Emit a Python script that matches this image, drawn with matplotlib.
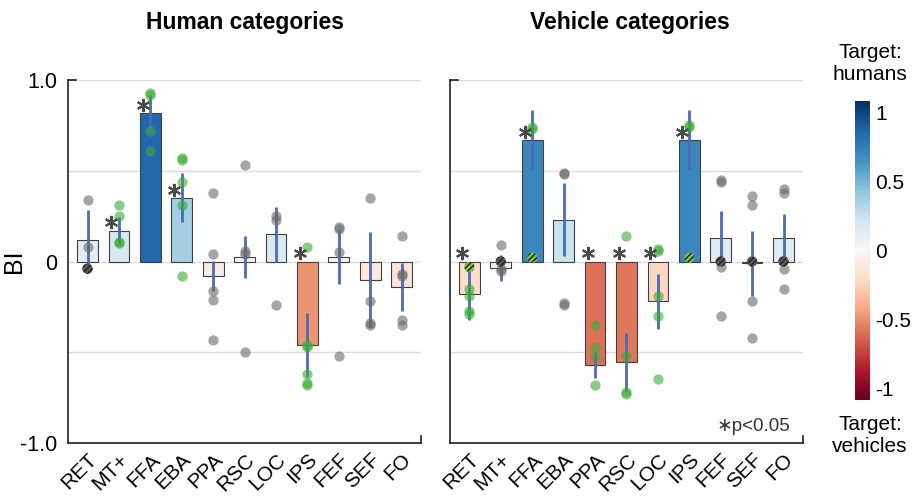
import numpy as np
import matplotlib.pyplot as plt
from matplotlib.colors import Normalize
from matplotlib.cm import ScalarMappable

plt.rcParams['font.family'] = ['Liberation Sans', 'DejaVu Sans']

rois = ['RET', 'MT+', 'FFA', 'EBA', 'PPA', 'RSC', 'LOC', 'IPS', 'FEF', 'SEF', 'FO']

# human categories panel
human_mean = [0.12, 0.17, 0.82, 0.35, -0.08, 0.025, 0.15, -0.46, 0.025, -0.10, -0.14]
human_err = [0.165, 0.075, 0.10, 0.135, 0.085, 0.115, 0.15, 0.175, 0.15, 0.265, 0.13]
human_sig = [0, 1, 1, 1, 0, 0, 0, 1, 0, 0, 0]
human_dots = [
    [0.34, 0.08],
    [0.31, 0.25, 0.10, 0.11],
    [0.93, 0.92, 0.72, 0.61],
    [0.57, 0.56, 0.44, 0.31, -0.08],
    [0.38, 0.04, -0.16, -0.21, -0.43],
    [0.53, 0.06, 0.04, -0.50],
    [0.25, 0.23, -0.24],
    [0.08, -0.46, -0.47, -0.62, -0.67, -0.68],
    [0.19, 0.18, 0.05, -0.52],
    [0.35, -0.22, -0.34, -0.35],
    [0.14, -0.07, -0.08, -0.32, -0.35],
]
human_hatch = [-0.04, None, None, None, None, None, None, None, None, None, None]

# vehicle categories panel
vehicle_mean = [-0.18, -0.035, 0.67, 0.23, -0.57, -0.555, -0.22, 0.67, 0.13, -0.01, 0.13]
vehicle_err = [0.14, 0.07, 0.165, 0.20, 0.07, 0.16, 0.15, 0.165, 0.15, 0.18, 0.13]
vehicle_sig = [1, 0, 1, 0, 1, 1, 1, 1, 0, 0, 0]
vehicle_dots = [
    [-0.15, -0.19, -0.27, -0.29],
    [0.09, -0.04, -0.05],
    [0.74, 0.73],
    [0.49, 0.48, -0.23, -0.24],
    [-0.35, -0.47, -0.52, -0.68],
    [0.14, -0.52, -0.72, -0.73],
    [0.06, 0.07, -0.19, -0.30, -0.65],
    [0.74, 0.75],
    [0.44, 0.45, -0.03, -0.30],
    [0.36, 0.31, -0.22, -0.42],
    [0.40, 0.38, -0.04, -0.15],
]
vehicle_hatch = [-0.03, 0.0, 0.02, None, None, None, None, 0.02, 0.0, 0.0, 0.0]

cmap = plt.get_cmap('RdBu')
bar_norm = Normalize(-1.03, 1.03)
err_color = '#4a6cb5'
gray = '#6a6a6a'
green = '#3aab36'

fig = plt.figure(figsize=(9.17, 5.0), dpi=100)
ax_h = fig.add_axes([0.0742, 0.114, 0.385, 0.726])
ax_v = fig.add_axes([0.4907, 0.114, 0.385, 0.726])


def draw_panel(ax, mean, err, sig, dots, hatch):
    x = np.arange(len(rois))
    for yv in [1.0, 0.5, 0.0, -0.5]:
        ax.axhline(yv, color='#dcdcdc', lw=1.0, zorder=0)
    ax.bar(x, mean, width=0.66, color=cmap(bar_norm(np.array(mean))),
           edgecolor='#404040', linewidth=0.8, zorder=2)
    ax.vlines(x, np.array(mean) - np.array(err), np.array(mean) + np.array(err),
              color=err_color, lw=2.0, zorder=3)
    for i in range(len(rois)):
        c = green if sig[i] else gray
        ax.scatter([x[i]] * len(dots[i]), dots[i], s=55, color=c, alpha=0.6,
                   linewidths=0, zorder=4)
        if hatch[i] is not None:
            fc = '#7fbf4a' if sig[i] else '#5a5a5a'
            ax.scatter([x[i]], [hatch[i]], s=55, facecolor=fc, edgecolor='#222222',
                       hatch='//////', linewidths=0.0, zorder=5)
        if sig[i]:
            ax.plot(x[i] - 0.24, max(mean[i], 0) + 0.045, marker=(6, 2, 0),
                    ms=9.5, mew=1.5, color='#4a4a4a', zorder=6, clip_on=False)
    ax.set_xlim(-0.62, 10.62)
    ax.set_ylim(-1.0, 1.0)
    ax.set_xticks(x)
    ax.set_xticklabels(rois, rotation=45, ha='right', va='top',
                       rotation_mode='anchor', fontsize=15)
    ax.tick_params(axis='x', length=0, pad=5)
    for s in ['top', 'right']:
        ax.spines[s].set_visible(False)
    for s in ['left', 'bottom']:
        ax.spines[s].set_color('#222222')
        ax.spines[s].set_linewidth(1.2)
    # small end ticks
    ax.plot([0, 0.022], [1, 1], transform=ax.transAxes, color='#222222',
            lw=1.2, clip_on=False)
    ax.plot([1, 1], [0, 0.02], transform=ax.transAxes, color='#222222',
            lw=1.2, clip_on=False)


draw_panel(ax_h, human_mean, human_err, human_sig, human_dots, human_hatch)
draw_panel(ax_v, vehicle_mean, vehicle_err, vehicle_sig, vehicle_dots, vehicle_hatch)

ax_h.set_yticks([-1, 0, 1])
ax_h.set_yticklabels(['-1.0', '0', '1.0'], fontsize=15.5)
ax_h.tick_params(axis='y', length=0, pad=8)
ax_h.set_ylabel('BI', fontsize=18)
ax_h.yaxis.set_label_coords(-0.12, 0.5)
ax_v.set_yticks([])

ax_v.text(0.965, 0.045, '\u2217p<0.05', transform=ax_v.transAxes, ha='right',
          va='center', fontsize=13.5, color='#333333')

fig.text(245 / 917, 1 - 22 / 500, 'Human categories', ha='center', va='center',
         fontsize=16.5, fontweight='bold')
fig.text(630 / 917, 1 - 22 / 500, 'Vehicle categories', ha='center', va='center',
         fontsize=16.5, fontweight='bold')

# colour bar
cax = fig.add_axes([0.932, 0.2, 0.0164, 0.598])
sm = ScalarMappable(norm=Normalize(-1.08, 1.08), cmap=cmap)
cb = fig.colorbar(sm, cax=cax)
cb.outline.set_visible(False)
cb.set_ticks([1, 0.5, 0, -0.5, -1])
cb.set_ticklabels(['1', '0.5', '0', '-0.5', '-1'])
cax.tick_params(length=0, labelsize=15, pad=4)

fig.text(870 / 917, 1 - 63 / 500, 'Target:\nhumans', ha='center', va='center',
         fontsize=15, linespacing=1.2)
fig.text(870 / 917, 1 - 435 / 500, 'Target:\nvehicles', ha='center', va='center',
         fontsize=15, linespacing=1.2)

fig.savefig('out.png', dpi=100)
